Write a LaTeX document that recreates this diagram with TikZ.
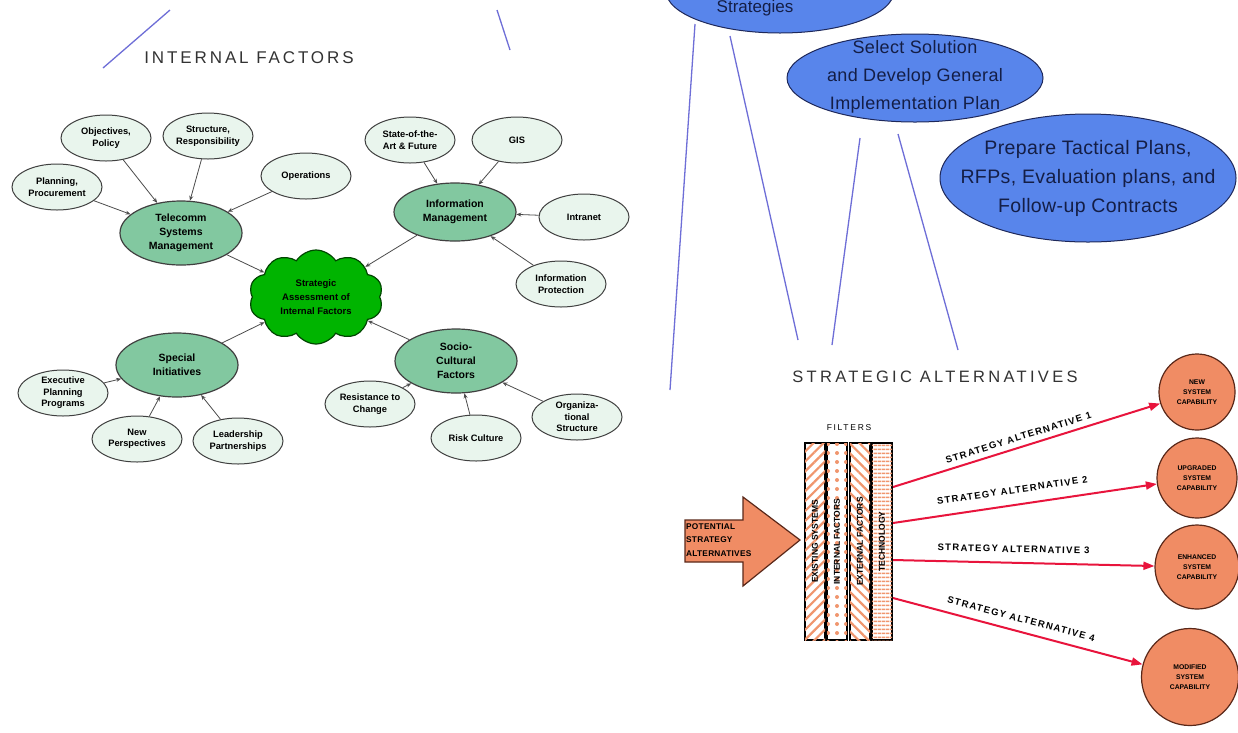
\documentclass[tikz,border=0pt]{standalone}
\usepackage{fontspec}
\setmainfont{Liberation Sans}
\usetikzlibrary{shapes.geometric,shapes.symbols,patterns.meta,arrows.meta}
\definecolor{bluefill}{RGB}{88,133,235}
\definecolor{bluedraw}{RGB}{30,40,90}
\definecolor{bluetext}{RGB}{20,30,70}
\definecolor{lineblue}{RGB}{110,110,215}
\definecolor{tealfill}{RGB}{130,200,160}
\definecolor{lightfill}{RGB}{233,245,237}
\definecolor{cloudgreen}{RGB}{0,180,0}
\definecolor{clouddraw}{RGB}{0,70,0}
\definecolor{orangefill}{RGB}{240,140,100}
\definecolor{orangedraw}{RGB}{90,40,25}
\definecolor{redline}{RGB}{232,20,60}
\definecolor{patorange}{RGB}{240,150,110}
\begin{document}
\begin{tikzpicture}[x=1pt,y=-1pt,
  smallnode/.style={ellipse,draw=black!75,line width=1pt,fill=lightfill,minimum width=90pt,minimum height=46pt,inner sep=0pt,align=center,font=\fontsize{9.3}{11.5}\selectfont\bfseries},
  mainnode/.style={ellipse,draw=black!75,line width=1.2pt,fill=tealfill,minimum width=122pt,minimum height=64pt,inner sep=0pt,align=center,font=\fontsize{10.5}{14}\selectfont\bfseries},
  feed/.style={draw=black!70,line width=0.8pt,-{Stealth[length=5pt,width=4pt]}},
  bluenode/.style={ellipse,draw=bluedraw,line width=1pt,fill=bluefill,inner sep=0pt},
  bluetxt/.style={align=center,text=bluetext,inner sep=0pt,font=\fontsize{19.5}{29}\selectfont\addfontfeatures{LetterSpace=2}},
  blueline/.style={draw=lineblue,line width=1.3pt},
  outnode/.style={circle,draw=orangedraw,line width=1.2pt,fill=orangefill,inner sep=0pt,align=center,font=\fontsize{6.8}{10}\selectfont\bfseries},
  redarrow/.style={draw=redline,line width=2pt,-{Triangle[length=11pt,width=8pt]}},
  altlabel/.style={sloped,above=2pt,font=\fontsize{9.5}{11}\selectfont\bfseries\addfontfeatures{LetterSpace=14}},
  filtercol/.style={draw=black,line width=1.3pt,fill=white,minimum width=20pt,minimum height=197pt,inner sep=0pt},
  coltext/.style={rotate=90,font=\fontsize{8.5}{10}\selectfont\bfseries,inner sep=0.5pt}
]
\useasboundingbox (0,0) rectangle (1238,732);
\clip (0,0) rectangle (1238,732);
\fill[white] (0,0) rectangle (1238,732);

% ---------- blue process ellipses ----------
\node[bluenode,minimum width=228pt,minimum height=84pt] (strat) at (780,-9) {};
\node[bluetxt,font=\fontsize{17}{20}\selectfont] (strattext) at (755,8) {Strategies};
\node[bluenode,minimum width=256pt,minimum height=88pt] (sel) at (915,78) {};
\node[bluetxt,font=\fontsize{18}{28}\selectfont\addfontfeatures{LetterSpace=2}] (seltext) at (915,77) {Select Solution\\and Develop General\\Implementation Plan};
\node[bluenode,minimum width=296pt,minimum height=128pt] (tac) at (1088,178) {};
\node[bluetxt] (tactext) at (tac) {Prepare Tactical Plans,\\RFPs, Evaluation plans, and\\Follow-up Contracts};

\coordinate (b1a) at (170,10);  \coordinate (b1b) at (103,68);
\coordinate (b2a) at (497,10);  \coordinate (b2b) at (510,50);
\coordinate (b3a) at (695,24);  \coordinate (b3b) at (670,390);
\coordinate (b4a) at (730,36);  \coordinate (b4b) at (798,340);
\coordinate (b5a) at (860,138); \coordinate (b5b) at (832,345);
\coordinate (b6a) at (898,134); \coordinate (b6b) at (958,350);
\draw[blueline] (b1a) -- (b1b);
\draw[blueline] (b2a) -- (b2b);
\draw[blueline] (b3a) -- (b3b);
\draw[blueline] (b4a) -- (b4b);
\draw[blueline] (b5a) -- (b5b);
\draw[blueline] (b6a) -- (b6b);

% ---------- titles ----------
\node[font=\fontsize{17}{20}\selectfont\addfontfeatures{LetterSpace=17},text=black!80] (intf) at (249,58) {INTERNAL FACTORS};
\node[font=\fontsize{16.5}{19}\selectfont\addfontfeatures{LetterSpace=20},text=black!80] (stalt) at (935,377) {STRATEGIC ALTERNATIVES};

% ---------- internal factors cluster ----------
\node[cloud,cloud puffs=10,cloud puff arc=115,aspect=1.4,draw=clouddraw,line width=1.2pt,fill=cloudgreen,minimum width=134pt,minimum height=94pt,inner sep=0pt,align=center,font=\fontsize{9.5}{14}\selectfont\bfseries] (cloud) at (316,297) {Strategic\\Assessment of\\Internal Factors};

\node[mainnode] (tsm) at (181,233) {Telecomm\\Systems\\Management};
\node[mainnode,minimum height=58pt] (im) at (455,212) {Information\\Management};
\node[mainnode] (si) at (177,365) {Special\\Initiatives};
\node[mainnode] (scf) at (456,361) {Socio-\\Cultural\\Factors};

\node[smallnode] (obj) at (106,138) {Objectives,\\Policy};
\node[smallnode] (str) at (208,136) {Structure,\\Responsibility};
\node[smallnode] (ops) at (306,176) {Operations};
\node[smallnode] (plan) at (57,187) {Planning,\\Procurement};

\node[smallnode] (sota) at (410,140) {State-of-the-\\Art \& Future};
\node[smallnode] (gis) at (517,140) {GIS};
\node[smallnode] (intra) at (584,217) {Intranet};
\node[smallnode] (prot) at (561,284) {Information\\Protection};

\node[smallnode] (exec) at (63,393) {Executive\\Planning\\Programs};
\node[smallnode] (newp) at (137,439) {New\\Perspectives};
\node[smallnode] (lead) at (238,441) {Leadership\\Partnerships};

\node[smallnode] (res) at (370,404) {Resistance to\\Change};
\node[smallnode] (rank) at (476,438) {Risk Culture};
\node[smallnode] (org) at (577,417) {Organiza-\\tional\\Structure};

\draw[feed] (obj) -- (tsm);
\draw[feed] (str) -- (tsm);
\draw[feed] (ops) -- (tsm);
\draw[feed] (plan) -- (tsm);
\draw[feed] (sota) -- (im);
\draw[feed] (gis) -- (im);
\draw[feed] (intra) -- (im);
\draw[feed] (prot) -- (im);
\draw[feed] (exec) -- (si);
\draw[feed] (newp) -- (si);
\draw[feed] (lead) -- (si);
\draw[feed] (res) -- (scf);
\draw[feed] (rank) -- (scf);
\draw[feed] (org) -- (scf);
\draw[feed] (tsm) -- (cloud);
\draw[feed] (im) -- (cloud);
\draw[feed] (si) -- (cloud);
\draw[feed] (scf) -- (cloud);

% ---------- filters ----------
\node[font=\fontsize{8.5}{10}\selectfont\addfontfeatures{LetterSpace=20}] (filt) at (849,428) {FILTERS};
\node[filtercol,postaction={pattern={Lines[angle=45,distance=7pt,line width=2.2pt]},pattern color=patorange}] (f1) at (815,541.5) {};
\node[filtercol,postaction={pattern={Dots[radius=2pt,distance=9pt]},pattern color=patorange}] (f2) at (837,541.5) {};
\node[filtercol,postaction={pattern={Lines[angle=-45,distance=7pt,line width=2.2pt]},pattern color=patorange}] (f3) at (860,541.5) {};
\node[filtercol,postaction={pattern={Lines[angle=0,distance=4pt,line width=1.6pt]},pattern color=patorange}] (f4) at (882,541.5) {};
\node[coltext] (t1) at (f1) {EXISTING SYSTEMS};
\node[coltext] (t2) at (f2) {INTERNAL FACTORS};
\node[coltext] (t3) at (f3) {EXTERNAL FACTORS};
\node[coltext] (t4) at (f4) {TECHNOLOGY};

% ---------- input arrow ----------
\draw[draw=orangedraw,line width=1.2pt,fill=orangefill] (685,520) -- (743,520) -- (743,497) -- (800,540) -- (743,586) -- (743,562) -- (685,562) -- cycle;
\node[align=left,anchor=west,inner sep=0pt,font=\fontsize{8.3}{13.5}\selectfont\bfseries\addfontfeatures{LetterSpace=3}] (pot) at (686,540) {POTENTIAL\\STRATEGY\\ALTERNATIVES};

% ---------- outcomes ----------
\node[outnode,minimum size=76pt] (c1) at (1197,392) {NEW\\SYSTEM\\CAPABILITY};
\node[outnode,minimum size=80pt] (c2) at (1197,478) {UPGRADED\\SYSTEM\\CAPABILITY};
\node[outnode,minimum size=84pt] (c3) at (1197,567) {ENHANCED\\SYSTEM\\CAPABILITY};
\node[outnode,minimum size=97pt] (c4) at (1190,677) {MODIFIED\\SYSTEM\\CAPABILITY};

\coordinate (s1) at (893,487);
\coordinate (s2) at (893,523);
\coordinate (s3) at (893,560);
\coordinate (s4) at (893,598);
\draw[redarrow] (s1) -- node[altlabel,pos=0.48] {STRATEGY ALTERNATIVE 1} (c1);
\draw[redarrow] (s2) -- node[altlabel,pos=0.46,above=5pt] {STRATEGY ALTERNATIVE 2} (c2);
\draw[redarrow] (s3) -- node[altlabel,pos=0.46,above=4pt] {STRATEGY ALTERNATIVE 3} (c3);
\draw[redarrow] (s4) -- node[altlabel,pos=0.5,above=3pt] {STRATEGY ALTERNATIVE 4} (c4);
\end{tikzpicture}
\end{document}
